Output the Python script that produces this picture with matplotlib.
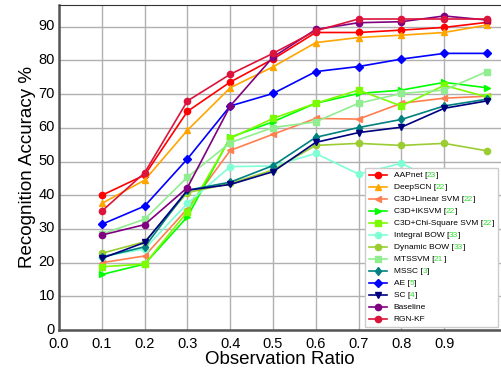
import numpy as np
import matplotlib.pyplot as plt
from matplotlib.offsetbox import TextArea, HPacker
from matplotlib.transforms import ScaledTranslation

plt.rcParams['font.family'] = ['Liberation Sans', 'DejaVu Sans']

ratios = [0.1, 0.2, 0.3, 0.4, 0.5, 0.6, 0.7, 0.8, 0.9, 1.0]

aapnet = [40.0, 46.0, 64.9, 73.6, 80.4, 88.3, 88.3, 89.0, 89.8, 91.3]
deepscn = [37.6, 44.5, 59.3, 71.9, 78.1, 85.3, 86.8, 87.5, 88.3, 90.5]
c3d_linear = [20.0, 22.0, 36.0, 53.3, 58.1, 62.8, 62.6, 67.3, 68.8, 69.4]
c3d_iksvm = [16.5, 19.6, 33.6, 57.2, 61.8, 67.3, 70.2, 71.2, 73.5, 71.9]
c3d_chi = [18.8, 19.6, 35.1, 56.9, 62.8, 67.3, 71.2, 66.5, 72.6, 69.2]
integral_bow = [21.8, 24.1, 37.6, 48.5, 48.7, 52.4, 46.3, 49.5, 43.2, 43.8]
dynamic_bow = [22.8, 26.2, 40.8, 43.5, 47.5, 54.8, 55.4, 54.8, 55.4, 53.2]
mtssvm = [28.5, 32.9, 45.4, 55.6, 60.1, 61.8, 67.3, 70.2, 71.2, 76.7]
mssc = [21.7, 24.7, 41.5, 43.9, 48.8, 57.2, 60.1, 62.5, 66.5, 68.5]
ae = [31.4, 36.8, 50.8, 66.5, 70.2, 76.7, 78.2, 80.4, 82.1, 82.1]
sc = [21.3, 26.0, 41.5, 43.2, 47.0, 55.7, 58.6, 60.2, 65.8, 68.0]
baseline = [28.2, 31.3, 42.3, 66.5, 81.0, 89.2, 91.2, 91.5, 93.2, 92.0]
rgn_kf = [35.3, 46.7, 68.0, 75.9, 82.1, 88.8, 92.3, 92.3, 92.3, 92.3]

series = [
    ("AAPnet", "23", aapnet, "red", "o"),
    ("DeepSCN", "22", deepscn, "orange", "^"),
    ("C3D+Linear SVM", "22", c3d_linear, "coral", "<"),
    ("C3D+IKSVM", "22", c3d_iksvm, "lime", ">"),
    ("C3D+Chi-Square SVM", "22", c3d_chi, "lawngreen", "s"),
    ("Integral BOW", "33", integral_bow, "aquamarine", "o"),
    ("Dynamic BOW", "33", dynamic_bow, "yellowgreen", "o"),
    ("MTSSVM", "21", mtssvm, "lightgreen", "s"),
    ("MSSC", "3", mssc, "teal", "d"),
    ("AE", "5", ae, "blue", "D"),
    ("SC", "4", sc, "navy", "v"),
    ("Baseline", None, baseline, "purple", "o"),
    ("RGN-KF", None, rgn_kf, "crimson", "o"),
]
refs = {f"{n} [{r}]": (n, r) for n, r, _, _, _ in series if r is not None}

LFS = 6.0

fig = plt.figure(figsize=(5.01, 3.73), dpi=100)
ax = fig.add_axes([0.118, 0.115, 0.882, 0.872])

for name, ref, vals, col, mk in series:
    lab = name if ref is None else f"{name} [{ref}]"
    ax.plot(ratios, vals, color=col, marker=mk, markersize=4.5, linewidth=1.2, label=lab)

ax.set_xlim(0, 1.033)
ax.set_ylim(0, 96.5)
ax.set_xticks(np.arange(0, 1.0, 0.1))
ax.set_xticklabels([f"{t:.1f}" for t in np.arange(0, 1.0, 0.1)])
ax.set_yticks(range(0, 100, 10))
ax.tick_params(labelsize=10.5, length=0)
ax.tick_params(axis='x', pad=5)
ax.tick_params(axis='y', pad=3)
# nudge y tick labels up a touch so "0" clears "0.0"
shift = ScaledTranslation(0, 1.5 / 72, fig.dpi_scale_trans)
for lbl in ax.get_yticklabels():
    lbl.set_transform(lbl.get_transform() + shift)
ax.grid(True, color='#b0b0b0', linewidth=1)
ax.set_axisbelow(True)
for s in ['left', 'bottom']:
    ax.spines[s].set_linewidth(1.8)
    ax.spines[s].set_color('#555555')
ax.spines['top'].set_color('#333333')
ax.spines['right'].set_visible(False)

ax.set_xlabel("Observation Ratio", fontsize=13.5, labelpad=0)
ax.set_ylabel("Recognition Accuracy %", fontsize=13.5, labelpad=2)

leg = ax.legend(loc='lower right', fontsize=LFS, fancybox=False, edgecolor='#cccccc',
                framealpha=1.0, borderaxespad=0.4, labelspacing=0.5, handlelength=2.2)

# split "Name [nn]" legend labels so the citation number is green
for column in leg._legend_handle_box.get_children():
    for row in column.get_children():
        h, t = row.get_children()
        lab = t.get_text()
        if lab not in refs:
            continue
        name, ref = refs[lab]
        parts = [TextArea(f"{name} [", textprops=dict(fontsize=LFS)),
                 TextArea(ref, textprops=dict(fontsize=LFS, color='#33dd33')),
                 TextArea("]", textprops=dict(fontsize=LFS))]
        row._children = [h, HPacker(children=parts, pad=0, sep=0, align='baseline')]
leg._legend_box.set_figure(fig)

fig.savefig("out.png", dpi=100)
